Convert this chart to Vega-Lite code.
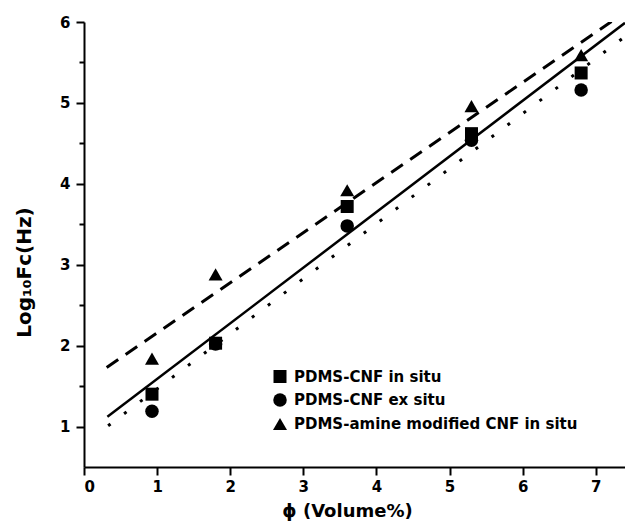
{
  "$schema": "https://vega.github.io/schema/vega-lite/v6.json",
  "width": 541,
  "height": 445,
  "autosize": {"type": "none"},
  "padding": {"left": 84, "top": 22, "right": 0, "bottom": 64},
  "background": "white",
  "config": {
    "view": {"stroke": null},
    "axis": {
      "grid": false,
      "domainColor": "black",
      "domainWidth": 2,
      "tickColor": "black",
      "tickWidth": 2,
      "labelFont": "DejaVu Sans",
      "labelFontWeight": "bold",
      "labelFontSize": 15,
      "labelColor": "black",
      "titleFont": "DejaVu Sans",
      "titleFontWeight": "bold",
      "titleFontSize": 18,
      "titleColor": "black"
    },
    "legend": {
      "labelFont": "DejaVu Sans",
      "labelFontWeight": "bold",
      "labelFontSize": 15,
      "labelColor": "black",
      "labelLimit": 400
    }
  },
  "datasets": {
    "points": [
      {"series": "PDMS-CNF in situ", "phi": 0.93, "logf": 1.40},
      {"series": "PDMS-CNF in situ", "phi": 1.8, "logf": 2.03},
      {"series": "PDMS-CNF in situ", "phi": 3.6, "logf": 3.72},
      {"series": "PDMS-CNF in situ", "phi": 5.3, "logf": 4.62},
      {"series": "PDMS-CNF in situ", "phi": 6.8, "logf": 5.37},
      {"series": "PDMS-CNF ex situ", "phi": 0.93, "logf": 1.19},
      {"series": "PDMS-CNF ex situ", "phi": 1.8, "logf": 2.02},
      {"series": "PDMS-CNF ex situ", "phi": 3.6, "logf": 3.48},
      {"series": "PDMS-CNF ex situ", "phi": 5.3, "logf": 4.54},
      {"series": "PDMS-CNF ex situ", "phi": 6.8, "logf": 5.16},
      {"series": "PDMS-amine modified CNF in situ", "phi": 0.93, "logf": 1.84},
      {"series": "PDMS-amine modified CNF in situ", "phi": 1.8, "logf": 2.88},
      {"series": "PDMS-amine modified CNF in situ", "phi": 3.6, "logf": 3.92},
      {"series": "PDMS-amine modified CNF in situ", "phi": 5.3, "logf": 4.96},
      {"series": "PDMS-amine modified CNF in situ", "phi": 6.8, "logf": 5.59}
    ],
    "lines": [
      {"fit": "solid", "phi": 0.32, "logf": 1.12},
      {"fit": "solid", "phi": 7.4, "logf": 5.99},
      {"fit": "dashed", "phi": 0.31, "logf": 1.73},
      {"fit": "dashed", "phi": 7.4, "logf": 6.12},
      {"fit": "dotted", "phi": 0.33, "logf": 1.01},
      {"fit": "dotted", "phi": 7.4, "logf": 5.82}
    ]
  },
  "layer": [
    {
      "data": {"name": "lines"},
      "transform": [{"filter": "datum.fit === 'solid'"}],
      "mark": {"type": "line", "color": "black", "strokeWidth": 2.5, "clip": true},
      "encoding": {
        "x": {"field": "phi", "type": "quantitative"},
        "y": {"field": "logf", "type": "quantitative"}
      }
    },
    {
      "data": {"name": "lines"},
      "transform": [{"filter": "datum.fit === 'dashed'"}],
      "mark": {"type": "line", "color": "black", "strokeWidth": 3, "strokeDash": [14, 9], "clip": true},
      "encoding": {
        "x": {"field": "phi", "type": "quantitative"},
        "y": {"field": "logf", "type": "quantitative"}
      }
    },
    {
      "data": {"name": "lines"},
      "transform": [{"filter": "datum.fit === 'dotted'"}],
      "mark": {"type": "line", "color": "black", "strokeWidth": 3, "strokeDash": [3, 17], "clip": true},
      "encoding": {
        "x": {"field": "phi", "type": "quantitative"},
        "y": {"field": "logf", "type": "quantitative"}
      }
    },
    {
      "data": {"name": "points"},
      "mark": {"type": "point", "filled": true, "opacity": 1, "color": "black"},
      "encoding": {
        "x": {
          "field": "phi",
          "type": "quantitative",
          "scale": {"domain": [0, 7.4], "nice": false, "zero": false},
          "axis": {
            "title": "ϕ (Volume%)",
            "values": [0, 0.5, 1, 1.5, 2, 2.5, 3, 3.5, 4, 4.5, 5, 5.5, 6, 6.5, 7],
            "labelExpr": "datum.value % 1 === 0 ? format(datum.value, 'd') : ''",
            "tickSize": {"condition": {"test": "datum.value % 1 === 0", "value": 8}, "value": 5},
            "labelPadding": 4,
            "titlePadding": 8,
            "titleX": 263
          }
        },
        "y": {
          "field": "logf",
          "type": "quantitative",
          "scale": {"domain": [0.5, 6], "nice": false, "zero": false},
          "axis": {
            "title": "Log₁₀Fc(Hz)",
            "titleFontSize": 20,
            "titleY": 250,
            "values": [1, 1.5, 2, 2.5, 3, 3.5, 4, 4.5, 5, 5.5, 6],
            "labelExpr": "datum.value % 1 === 0 ? format(datum.value, 'd') : ''",
            "tickSize": {"condition": {"test": "datum.value % 1 === 0", "value": 8}, "value": 5},
            "labelPadding": 6,
            "titlePadding": 25
          }
        },
        "shape": {
          "field": "series",
          "type": "nominal",
          "scale": {
            "domain": ["PDMS-CNF in situ", "PDMS-CNF ex situ", "PDMS-amine modified CNF in situ"],
            "range": ["square", "circle", "triangle-up"]
          },
          "legend": {
            "title": null,
            "orient": "none",
            "legendX": 188,
            "legendY": 347,
            "rowPadding": 4,
            "labelOffset": 6,
            "symbolFillColor": "black",
            "symbolStrokeColor": "black"
          }
        },
        "size": {
          "field": "series",
          "type": "nominal",
          "scale": {
            "domain": ["PDMS-CNF in situ", "PDMS-CNF ex situ", "PDMS-amine modified CNF in situ"],
            "range": [169, 196, 280]
          },
          "legend": {
            "title": null,
            "orient": "none",
            "legendX": 188,
            "legendY": 347,
            "rowPadding": 4,
            "labelOffset": 6
          }
        }
      }
    }
  ]
}
